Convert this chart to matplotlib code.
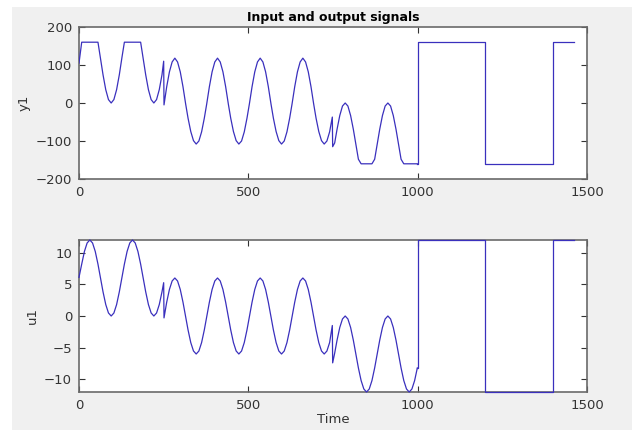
import matplotlib
matplotlib.use("Agg")
import matplotlib.pyplot as plt
from matplotlib.patches import Rectangle

# oscillating part of the record (time, input u1, output y1)
t_osc = [0, 8, 16, 24, 32, 40, 48, 56, 64, 71, 79, 87, 95, 103, 111, 119,
         127, 134, 142, 150, 158, 166, 174, 182, 190, 197, 205, 213, 221, 229, 237, 245, 250,
         251, 259, 267, 275, 283, 291, 299, 307, 315, 322, 330, 338, 346, 354, 362, 370,
         377, 385, 393, 401, 409, 417, 425, 433, 441, 448, 456, 464, 472, 480, 488, 496,
         503, 511, 519, 527, 535, 543, 551, 559, 567, 574, 582, 590, 598, 606, 614, 622,
         629, 637, 645, 653, 661, 669, 677, 685, 693, 700, 708, 716, 724, 732, 740, 748,
         749, 755, 762, 770, 778, 786, 794, 802, 810, 818, 825, 833, 841, 849, 857, 865,
         873, 881, 888, 896, 904, 912, 920, 928, 936, 944, 951, 959, 967, 975, 983, 991, 999]

u1_osc = [6.1, 8.19, 10.19, 11.53, 12, 11.53, 10.19, 8.19, 5.85, 3.80, 1.81, 0.48, 0, 0.47, 1.80, 3.80,
          6.15, 8.19, 10.19, 11.53, 12, 11.53, 10.19, 8.19, 5.85, 3.80, 1.81, 0.48, 0, 0.47, 1.80, 3.80, 5.26,
          -0.3, 2.19, 4.19, 5.53, 6, 5.53, 4.19, 2.19, -0.15, -2.20, -4.19, -5.52, -6, -5.53, -4.20, -2.20,
          -0.15, 2.19, 4.19, 5.53, 6, 5.53, 4.19, 2.19, -0.15, -2.20, -4.19, -5.52, -6, -5.53, -4.20, -2.20,
          -0.15, 2.19, 4.19, 5.53, 6, 5.53, 4.19, 2.19, -0.15, -2.20, -4.19, -5.52, -6, -5.53, -4.20, -2.20,
          -0.15, 2.19, 4.19, 5.53, 6, 5.53, 4.19, 2.19, -0.15, -2.20, -4.19, -5.52, -6, -5.53, -4.20, -1.5,
          -7.4, -5.85, -3.81, -1.81, -0.47, 0, -0.47, -1.81, -3.81, -6.15, -8.20, -10.19, -11.52, -12, -11.53, -10.20,
          -8.20, -5.85, -3.81, -1.81, -0.47, 0, -0.47, -1.81, -3.81, -6.15, -8.20, -10.19, -11.52, -12, -11.53, -10.20, -8.20]

y1_osc = [105, 160, 160, 160, 160, 160, 160, 160, 115, 74, 35, 9, 0, 9, 35, 74,
          121, 160, 160, 160, 160, 160, 160, 160, 115, 74, 35, 9, 0, 9, 35, 74, 110,
          -5, 43, 82, 108, 118, 108, 82, 43, -3, -40, -75, -99, -108, -100, -76, -40,
          -3, 43, 82, 108, 118, 108, 82, 43, -3, -40, -75, -99, -108, -100, -76, -40,
          -3, 43, 82, 108, 118, 108, 82, 43, -3, -40, -75, -99, -108, -100, -76, -40,
          -3, 43, 82, 108, 118, 108, 82, 43, -3, -40, -75, -99, -108, -100, -76, -37,
          -115, -105, -69, -33, -8, 0, -8, -33, -69, -111, -148, -160, -160, -160, -160, -160,
          -148, -105, -69, -33, -8, 0, -8, -33, -69, -111, -148, -160, -160, -160, -160, -160, -160]

# square-wave part (held values, step after each time)
t_step = [999, 1000, 1200, 1400, 1462]
u1_step = [-8.20, 12, -12, 12, 12]
y1_step = [-160, 160, -160, 160, 160]

line_col = '#3a30bd'
edge_col = '#6a6a6a'
text_col = '#333333'

fig = plt.figure(figsize=(6.32, 4.30), dpi=100, facecolor='white')
fig.add_artist(Rectangle((12 / 632, 0), 1 - 12 / 632, 1 - 7 / 430,
                         transform=fig.transFigure, facecolor='#f0f0f0',
                         edgecolor='none', zorder=-10))

ax1 = fig.add_axes([79 / 632, 1 - 179 / 430, 508 / 632, 152 / 430])
ax2 = fig.add_axes([79 / 632, 1 - 392 / 430, 508 / 632, 152 / 430])

ax1.plot(t_osc, y1_osc, color=line_col, lw=0.9, zorder=3)
ax1.step(t_step, y1_step, where='post', color=line_col, lw=0.9, zorder=3)
ax2.plot(t_osc, u1_osc, color=line_col, lw=0.9, zorder=3, clip_on=False)
ax2.step(t_step, u1_step, where='post', color=line_col, lw=0.9, zorder=3, clip_on=False)

ax1.set_ylim(-200, 200)
ax1.set_yticks([-200, -100, 0, 100, 200])
ax2.set_ylim(-12, 12)
ax2.set_yticks([-10, -5, 0, 5, 10])

for ax in (ax1, ax2):
    ax.set_xlim(0, 1500)
    ax.set_xticks([0, 500, 1000, 1500])
    ax.set_facecolor('white')
    ax.tick_params(direction='in', top=True, right=True, length=4, width=0.8,
                   color='#333333', labelsize=9.5, labelcolor=text_col, pad=5)
    for sp in ax.spines.values():
        sp.set_color(edge_col)
        sp.set_linewidth(1.2)

ax1.set_ylabel('y1', fontsize=9.5, color=text_col)
ax2.set_ylabel('u1', fontsize=9.5, color=text_col)
ax2.set_xlabel('Time', fontsize=9.5, color=text_col, labelpad=1)
ax1.set_title('Input and output signals', fontsize=9, fontweight='bold', pad=4)

fig.savefig('out.png', dpi=100, facecolor=fig.get_facecolor())
